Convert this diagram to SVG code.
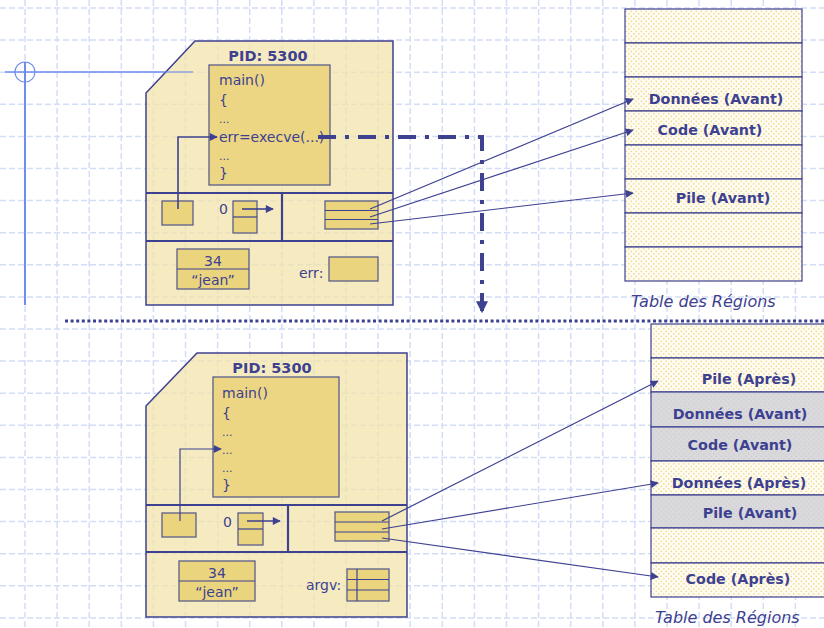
<svg xmlns="http://www.w3.org/2000/svg" width="824" height="628" viewBox="0 0 824 628">
  <defs>
    <pattern id="dots" width="5" height="5" patternUnits="userSpaceOnUse">
      <rect width="5" height="5" fill="#fffdf3"/>
      <circle cx="1.3" cy="1.3" r="0.9" fill="#f0db92"/>
      <circle cx="3.8" cy="3.8" r="0.9" fill="#f0db92"/>
    </pattern>
    <pattern id="greydots" width="5" height="5" patternUnits="userSpaceOnUse">
      <rect width="5" height="5" fill="#dadadd"/>
      <circle cx="1.3" cy="1.3" r="0.9" fill="#cfcfd4"/>
      <circle cx="3.8" cy="3.8" r="0.9" fill="#cfcfd4"/>
    </pattern>
    <marker id="arr" viewBox="0 0 10 10" refX="9" refY="5" markerWidth="9" markerHeight="8" markerUnits="userSpaceOnUse" orient="auto">
      <path d="M0,0 L10,5 L0,10 z" fill="#3d4190"/>
    </marker>
    <marker id="bigarr" viewBox="0 0 10 10" refX="9" refY="5" markerWidth="15" markerHeight="12" markerUnits="userSpaceOnUse" orient="auto">
      <path d="M0,0 L10,5 L0,10 z" fill="#3d4190"/>
    </marker>
    <style>
      .grid line { stroke: #d4ddf8; stroke-width: 1.5; stroke-dasharray: 6 3; }
      .shell { fill: #f3e3a8; fill-opacity: 0.72; stroke: #3d4190; stroke-width: 1.5; }
      .code { fill: #ebd47e; fill-opacity: 0.92; stroke: #5b5e8c; stroke-width: 1.3; }
      .cell { fill: #ebd47e; stroke: #5b5e8c; stroke-width: 1.3; }
      .in { stroke: #3d4190; stroke-width: 1.2; }
      .div { stroke: #3d4190; stroke-width: 2.2; fill: none; }
      .row { fill: url(#dots); stroke: #3d4190; stroke-width: 1.2; }
      .row.old { fill: url(#greydots); }
      text { font-family: "DejaVu Sans", "Liberation Sans", sans-serif; fill: #3d4190; }
      .t { font-size: 14px; }
      .dots3 { font-size: 11px; }
      .pid { font-size: 14.5px; font-weight: bold; text-anchor: middle; }
      .lbl { font-size: 14.3px; font-weight: bold; text-anchor: middle; }
      .cap { font-size: 16px; font-style: italic; }
      .ctr { text-anchor: middle; }
      .link { stroke: #3d4190; stroke-width: 1.2; fill: none; marker-end: url(#arr); }
      .ptr { stroke: #3d4190; stroke-width: 1.6; fill: none; marker-end: url(#arr); }
    </style>
  </defs>

  <rect width="824" height="628" fill="#ffffff"/>

  <!-- background grid -->
  <g class="grid">
    <line x1="25" y1="0" x2="25" y2="628"/>
    <line x1="57.1" y1="0" x2="57.1" y2="628"/>
    <line x1="89.2" y1="0" x2="89.2" y2="628"/>
    <line x1="121.3" y1="0" x2="121.3" y2="628"/>
    <line x1="153.4" y1="0" x2="153.4" y2="628"/>
    <line x1="185.5" y1="0" x2="185.5" y2="628"/>
    <line x1="217.6" y1="0" x2="217.6" y2="628"/>
    <line x1="249.7" y1="0" x2="249.7" y2="628"/>
    <line x1="281.8" y1="0" x2="281.8" y2="628"/>
    <line x1="313.9" y1="0" x2="313.9" y2="628"/>
    <line x1="346" y1="0" x2="346" y2="628"/>
    <line x1="378.1" y1="0" x2="378.1" y2="628"/>
    <line x1="410.2" y1="0" x2="410.2" y2="628"/>
    <line x1="442.3" y1="0" x2="442.3" y2="628"/>
    <line x1="474.4" y1="0" x2="474.4" y2="628"/>
    <line x1="506.5" y1="0" x2="506.5" y2="628"/>
    <line x1="538.6" y1="0" x2="538.6" y2="628"/>
    <line x1="570.7" y1="0" x2="570.7" y2="628"/>
    <line x1="602.8" y1="0" x2="602.8" y2="628"/>
    <line x1="634.9" y1="0" x2="634.9" y2="628"/>
    <line x1="667" y1="0" x2="667" y2="628"/>
    <line x1="699.1" y1="0" x2="699.1" y2="628"/>
    <line x1="731.2" y1="0" x2="731.2" y2="628"/>
    <line x1="763.3" y1="0" x2="763.3" y2="628"/>
    <line x1="795.4" y1="0" x2="795.4" y2="628"/>
    <line x1="0" y1="8" x2="824" y2="8"/>
    <line x1="0" y1="40.1" x2="824" y2="40.1"/>
    <line x1="0" y1="72.2" x2="824" y2="72.2"/>
    <line x1="0" y1="104.3" x2="824" y2="104.3"/>
    <line x1="0" y1="136.4" x2="824" y2="136.4"/>
    <line x1="0" y1="168.5" x2="824" y2="168.5"/>
    <line x1="0" y1="200.6" x2="824" y2="200.6"/>
    <line x1="0" y1="232.7" x2="824" y2="232.7"/>
    <line x1="0" y1="264.8" x2="824" y2="264.8"/>
    <line x1="0" y1="296.9" x2="824" y2="296.9"/>
    <line x1="0" y1="329" x2="824" y2="329"/>
    <line x1="0" y1="361.1" x2="824" y2="361.1"/>
    <line x1="0" y1="393.2" x2="824" y2="393.2"/>
    <line x1="0" y1="425.3" x2="824" y2="425.3"/>
    <line x1="0" y1="457.4" x2="824" y2="457.4"/>
    <line x1="0" y1="489.5" x2="824" y2="489.5"/>
    <line x1="0" y1="521.6" x2="824" y2="521.6"/>
    <line x1="0" y1="553.7" x2="824" y2="553.7"/>
    <line x1="0" y1="585.8" x2="824" y2="585.8"/>
    <line x1="0" y1="617.9" x2="824" y2="617.9"/>
  </g>

  <!-- crosshair mark -->
  <g id="crosshair" fill="none" stroke="#6f8cf0">
    <line x1="25" y1="62" x2="25" y2="305" stroke-width="2"/>
    <line x1="5" y1="72" x2="193" y2="72" stroke-width="1"/>
    <circle cx="25" cy="72" r="10" stroke-width="1.2"/>
  </g>

  <!-- process before exec -->
  <g id="process-before">
    <polygon class="shell" points="146,93 195,41 393,41 393,305 146,305"/>
    <line x1="5" y1="72" x2="193" y2="72" stroke="#6f8cf0" stroke-width="1"/>
    <text class="pid" x="268" y="61">PID: 5300</text>
    <rect class="code" x="209" y="65" width="121" height="120"/>
    <text class="t" x="219" y="85">main()</text>
    <text class="t" x="219" y="105">{</text>
    <text class="dots3" x="219" y="123">...</text>
    <text class="t" x="219" y="142">err=execve(...)</text>
    <text class="dots3" x="219" y="160">...</text>
    <text class="t" x="219" y="178">}</text>
    <line class="div" x1="146" y1="193" x2="393" y2="193"/>
    <line class="div" x1="146" y1="241" x2="393" y2="241"/>
    <line class="div" x1="282" y1="193" x2="282" y2="241"/>
    <rect class="cell" x="162" y="201" width="31" height="24"/>
    <polyline class="ptr" points="178,209 178,137 217,137"/>
    <text class="t" x="219" y="214">0</text>
    <rect class="cell" x="233" y="201" width="24" height="32"/>
    <line class="in" x1="233" y1="217" x2="257" y2="217"/>
    <line class="ptr" x1="242" y1="209" x2="273" y2="209"/>
    <rect class="cell" x="325" y="201" width="53" height="28"/>
    <line class="in" x1="325" y1="210.5" x2="378" y2="210.5"/>
    <line class="in" x1="325" y1="219.5" x2="378" y2="219.5"/>
    <rect class="cell" x="177" y="249" width="72" height="40"/>
    <line class="in" x1="177" y1="269" x2="249" y2="269"/>
    <text class="t ctr" x="213" y="266">34</text>
    <text class="t ctr" x="213" y="285">“jean”</text>
    <text class="t" x="299" y="278">err:</text>
    <rect class="cell" x="329" y="257" width="49" height="24"/>
  </g>

  <!-- region table before exec -->
  <g id="table-before">
    <rect class="row" x="625" y="9" width="177" height="34"/>
    <rect class="row" x="625" y="43" width="177" height="34"/>
    <rect class="row" x="625" y="77" width="177" height="34"/>
    <rect class="row" x="625" y="111" width="177" height="34"/>
    <rect class="row" x="625" y="145" width="177" height="34"/>
    <rect class="row" x="625" y="179" width="177" height="34"/>
    <rect class="row" x="625" y="213" width="177" height="34"/>
    <rect class="row" x="625" y="247" width="177" height="34"/>
    <text class="lbl" x="716" y="104">Données (Avant)</text>
    <text class="lbl" x="710" y="135">Code (Avant)</text>
    <text class="lbl" x="723" y="203">Pile (Avant)</text>
    <text class="cap" x="631" y="307">Table des Régions</text>
  </g>

  <!-- process after exec -->
  <g id="process-after">
    <polygon class="shell" points="146,406 197,353 407,353 407,617 146,617"/>
    <text class="pid" x="272" y="373">PID: 5300</text>
    <rect class="code" x="213" y="377" width="126" height="120"/>
    <text class="t" x="222" y="398">main()</text>
    <text class="t" x="222" y="418">{</text>
    <text class="dots3" x="222" y="436">...</text>
    <text class="dots3" x="222" y="454">...</text>
    <text class="dots3" x="222" y="472">...</text>
    <text class="t" x="222" y="490">}</text>
    <line class="div" x1="146" y1="505" x2="407" y2="505"/>
    <line class="div" x1="146" y1="552" x2="407" y2="552"/>
    <line class="div" x1="288" y1="505" x2="288" y2="552"/>
    <rect class="cell" x="162" y="513" width="34" height="24"/>
    <polyline class="link" points="180,521 180,449 221,449"/>
    <text class="t" x="223" y="527">0</text>
    <rect class="cell" x="238" y="513" width="25" height="32"/>
    <line class="in" x1="238" y1="529" x2="263" y2="529"/>
    <line class="ptr" x1="247" y1="521" x2="280" y2="521"/>
    <rect class="cell" x="335" y="512" width="54" height="29"/>
    <line class="in" x1="335" y1="522" x2="389" y2="522"/>
    <line class="in" x1="335" y1="532" x2="389" y2="532"/>
    <rect class="cell" x="179" y="561" width="76" height="40"/>
    <line class="in" x1="179" y1="581" x2="255" y2="581"/>
    <text class="t ctr" x="217" y="578">34</text>
    <text class="t ctr" x="217" y="597">“jean”</text>
    <text class="t" x="306" y="590">argv:</text>
    <rect class="cell" x="347" y="569" width="42" height="32"/>
    <line class="in" x1="347" y1="579.5" x2="389" y2="579.5"/>
    <line class="in" x1="347" y1="590" x2="389" y2="590"/>
    <line class="in" x1="357" y1="569" x2="357" y2="601"/>
  </g>

  <!-- region table after exec -->
  <g id="table-after">
    <rect class="row" x="651" y="324" width="180" height="34"/>
    <rect class="row" x="651" y="358" width="180" height="34"/>
    <rect class="row old" x="651" y="392" width="180" height="35"/>
    <rect class="row old" x="651" y="427" width="180" height="34"/>
    <rect class="row" x="651" y="461" width="180" height="34"/>
    <rect class="row old" x="651" y="495" width="180" height="33"/>
    <rect class="row" x="651" y="528" width="180" height="35"/>
    <rect class="row" x="651" y="563" width="180" height="34"/>
    <text class="lbl" x="749" y="384">Pile (Après)</text>
    <text class="lbl" x="740" y="419">Données (Avant)</text>
    <text class="lbl" x="740" y="450">Code (Avant)</text>
    <text class="lbl" x="739" y="488">Données (Après)</text>
    <text class="lbl" x="750" y="518">Pile (Avant)</text>
    <text class="lbl" x="738" y="584">Code (Après)</text>
    <text class="cap" x="655" y="623">Table des Régions</text>
  </g>

  <!-- connectors -->
  <g id="connectors">
    <line class="link" x1="370" y1="209" x2="633" y2="99"/>
    <line class="link" x1="370" y1="217" x2="633" y2="130"/>
    <line class="link" x1="370" y1="224" x2="633" y2="193"/>
    <line class="link" x1="382" y1="521" x2="658" y2="381"/>
    <line class="link" x1="382" y1="529" x2="658" y2="483"/>
    <line class="link" x1="382" y1="538" x2="658" y2="577"/>
    <polyline points="318,137 482,137 482,312" fill="none" stroke="#3d4190" stroke-width="4" stroke-dasharray="18 9 4 9" marker-end="url(#bigarr)"/>
    <line x1="65" y1="321" x2="824" y2="321" stroke="#3d4190" stroke-width="3" stroke-dasharray="3 2.6"/>
  </g>
</svg>
